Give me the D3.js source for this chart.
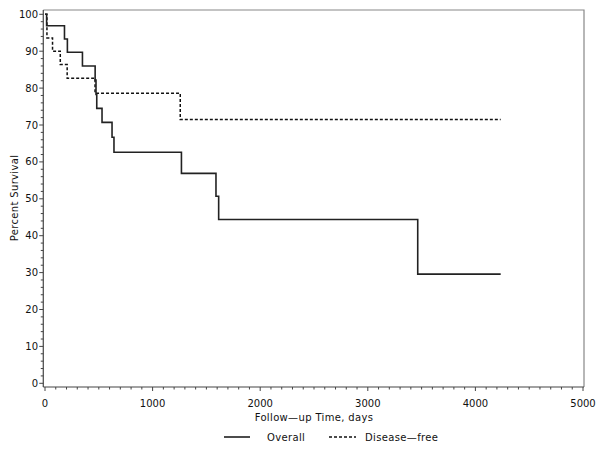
<!DOCTYPE html>
<html>
<head>
<meta charset="utf-8">
<script src="https://cdn.jsdelivr.net/npm/d3@7"></script>
<style>
  html, body { margin: 0; padding: 0; background: #fff; }
  text { font-family: "DejaVu Sans", sans-serif; fill: #111; }
  .lab { letter-spacing: 0.35px; }
</style>
</head>
<body>
<svg id="chart" width="600" height="450"></svg>
<script>
// ---- data ----
const overallTime = [0, 15, 181, 208, 348, 466, 474, 481, 530, 623, 641, 1268, 1589, 1614, 3464, 4235];
const overallSurv = [100, 96.9, 93.3, 89.7, 86.0, 82.2, 78.3, 74.5, 70.7, 66.7, 62.6, 56.9, 50.7, 44.4, 29.6, 29.6];
const diseaseTime = [0, 18, 70, 142, 206, 465, 1257, 4235];
const diseaseSurv = [100, 93.6, 90.0, 86.4, 82.7, 78.6, 71.5, 71.5];
const xTicks = [0, 1000, 2000, 3000, 4000, 5000];
const yTicks = [0, 10, 20, 30, 40, 50, 60, 70, 80, 90, 100];
const seriesNames = ["Overall", "Disease\u2014free"];
const xLabel = "Follow\u2014up Time, days";
const yLabel = "Percent  Survival";

const svg = d3.select("#chart");
const x = d3.scaleLinear().domain([0, 5000]).range([45, 583]);
const y = d3.scaleLinear().domain([0, 100]).range([383.3, 14.3]);

const fLeft = x(-16), fRight = 584, fTop = 10, fBottom = 387;

// frame (top/right)
svg.append("path")
  .attr("d", `M${fLeft},${fTop}H${fRight}V${fBottom}`)
  .attr("fill", "none").attr("stroke", "#888").attr("stroke-width", 1.2);

// left axis
const yAxis = svg.append("g");
yAxis.append("line").attr("x1", fLeft).attr("x2", fLeft).attr("y1", fTop).attr("y2", fBottom)
  .attr("stroke", "#444").attr("stroke-width", 1.2);
yAxis.selectAll("line.minor").data(d3.range(0, 101, 2)).join("line")
  .attr("class", "minor")
  .attr("x1", fLeft).attr("x2", d => fLeft - (d % 10 === 0 ? 4 : 2.5))
  .attr("y1", d => y(d)).attr("y2", d => y(d))
  .attr("stroke", "#444").attr("stroke-width", 1);
yAxis.selectAll("text").data(yTicks).join("text")
  .attr("x", 38).attr("y", d => y(d)).attr("dy", "0.35em")
  .attr("text-anchor", "end").attr("font-size", 10)
  .text(d => d);

// bottom axis
const xAxis = svg.append("g");
xAxis.append("line").attr("x1", fLeft).attr("x2", fRight).attr("y1", fBottom).attr("y2", fBottom)
  .attr("stroke", "#444").attr("stroke-width", 1.2);
xAxis.selectAll("line.minor").data(d3.range(0, 5001, 100)).join("line")
  .attr("class", "minor")
  .attr("x1", d => x(d)).attr("x2", d => x(d))
  .attr("y1", fBottom).attr("y2", d => fBottom + (d % 1000 === 0 ? 4 : 2.5))
  .attr("stroke", "#444").attr("stroke-width", 1);
xAxis.selectAll("text").data(xTicks).join("text")
  .attr("x", d => x(d)).attr("y", 406.5)
  .attr("text-anchor", "middle").attr("font-size", 10)
  .text(d => d);

// axis labels
svg.append("text").attr("class", "lab").attr("x", 314).attr("y", 421).attr("text-anchor", "middle")
  .attr("font-size", 10).text(xLabel);
svg.append("text").attr("class", "lab").attr("transform", "translate(18,198) rotate(-90)")
  .attr("text-anchor", "middle").attr("font-size", 10).text(yLabel);

// curves
const line = d3.line().x(d => x(d[0])).y(d => y(d[1])).curve(d3.curveStepAfter);
const overall = overallTime.map((t, i) => [t, overallSurv[i]]);
const disease = diseaseTime.map((t, i) => [t, diseaseSurv[i]]);

svg.append("path").datum(disease).attr("d", line)
  .attr("fill", "none").attr("stroke", "#111").attr("stroke-width", 1.5)
  .attr("stroke-dasharray", "3,2");
svg.append("path").datum(overall).attr("d", line)
  .attr("fill", "none").attr("stroke", "#222").attr("stroke-width", 1.6);

// legend
const lg = svg.append("g");
lg.append("line").attr("x1", 224).attr("x2", 250).attr("y1", 437).attr("y2", 437)
  .attr("stroke", "#111").attr("stroke-width", 1.5);
lg.append("text").attr("class", "lab").attr("x", 267).attr("y", 440.5).attr("font-size", 10).text(seriesNames[0]);
lg.append("line").attr("x1", 329).attr("x2", 356).attr("y1", 437).attr("y2", 437)
  .attr("stroke", "#111").attr("stroke-width", 1.5).attr("stroke-dasharray", "3,2");
lg.append("text").attr("class", "lab").attr("x", 365).attr("y", 440.5).attr("font-size", 10).text(seriesNames[1]);
</script>
</body>
</html>
